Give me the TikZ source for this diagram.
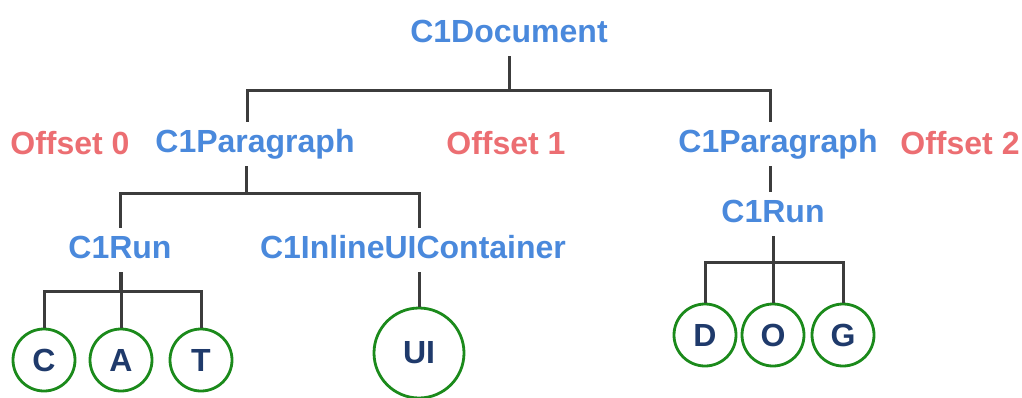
\documentclass[tikz,border=0pt]{standalone}
\usepackage{fontspec}
\setmainfont{Liberation Sans}
\definecolor{nblue}{HTML}{4A89DC}
\definecolor{nred}{HTML}{EC6E72}
\definecolor{cgreen}{HTML}{1B8A1B}
\definecolor{navy}{HTML}{1F3A6B}
\definecolor{lgray}{HTML}{3C3C3C}
\begin{document}
\begin{tikzpicture}[x=1pt,y=-1pt,
  lbl/.style={font=\fontsize{32}{36}\selectfont\bfseries, text=nblue, anchor=base,
    text height=22pt, text depth=6pt, inner xsep=0pt, inner ysep=8pt},
  off/.style={lbl, text=nred},
  leaf/.style={circle, draw=cgreen, line width=2.8pt, minimum size=62pt, inner sep=0pt,
    font=\fontsize{32}{36}\selectfont\bfseries, text=navy},
  conn/.style={draw=lgray, line width=3pt}]
\useasboundingbox (0,0) rectangle (1022,397);
% labels
\node[lbl] (doc) at (509,42) {C1Document};
\node[lbl] (pL) at (255,152) {C1Paragraph};
\node[lbl] (pR) at (778,152) {C1Paragraph};
\node[off] (o0) at (70,154) {Offset 0};
\node[off] (o1) at (506,154) {Offset 1};
\node[off] (o2) at (960,154) {Offset 2};
\node[lbl] (runL) at (120,258) {C1Run};
\node[lbl] (cont) at (413,258) {C1InlineUIContainer};
\node[lbl] (runR) at (773,222) {C1Run};
% leaves
\node[leaf] (c) at (44,360) {C};
\node[leaf] (a) at (121,360) {A};
\node[leaf] (t) at (201,360) {T};
\node[leaf, minimum size=90pt] (ui) at (419,353) {UI};
\node[leaf] (d) at (705,335) {D};
\node[leaf] (o) at (773,335) {O};
\node[leaf] (g) at (843,335) {G};
% connectors
\draw[conn] (doc.south) -- ++(0,34) -| ([xshift=-8pt]pL.north);
\draw[conn] (doc.south) -- ++(0,34) -| ([xshift=-8pt]pR.north);
\draw[conn] ([xshift=-9pt]pL.south) -- ++(0,27) -| (runL.north);
\draw[conn] ([xshift=-9pt]pL.south) -- ++(0,27) -| ([xshift=6pt]cont.north);
\draw[conn] ([xshift=-8pt]pR.south) -- ([xshift=-8pt]pR.south |- runR.north);
\draw[conn] (ui.north |- cont.south) -- (ui.north);
\draw[conn] (runL.south) -- ++(0,19) -| (c.north);
\draw[conn] (runL.south -| a.north) -- (a.north);
\draw[conn] (runL.south) -- ++(0,19) -| (t.north);
\draw[conn] (runR.south) -- ++(0,26) -| (d.north);
\draw[conn] (runR.south -| o.north) -- (o.north);
\draw[conn] (runR.south) -- ++(0,26) -| (g.north);
\end{tikzpicture}
\end{document}
